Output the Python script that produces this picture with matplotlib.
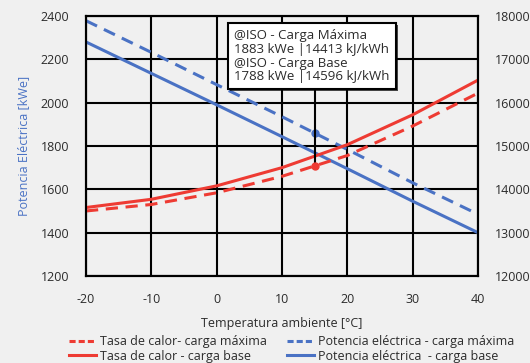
import matplotlib
matplotlib.use("Agg")
import matplotlib.pyplot as plt
import matplotlib.patheffects as pe
from matplotlib.lines import Line2D

plt.rcParams['font.family'] = ['Open Sans', 'DejaVu Sans']
plt.rcParams['axes.unicode_minus'] = False

# data
temp = [-20, -10, 0, 10, 20, 30, 40]
pot_max = [2378, 2232, 2083, 1935, 1784, 1630, 1485]      # kWe, dashed blue
pot_base = [2280, 2135, 1990, 1843, 1695, 1545, 1400]     # kWe, solid blue
hr_max = [13500, 13650, 13920, 14300, 14780, 15460, 16220]  # kJ/kWh, dashed red
hr_base = [13580, 13770, 14080, 14500, 15030, 15720, 16520] # kJ/kWh, solid red

iso_temp = 15
iso_pot = 1860
iso_hr = 14540

note = ["@ISO - Carga Máxima", "1883 kWe |14413 kJ/kWh",
        "@ISO - Carga Base", "1788 kWe |14596 kJ/kWh"]

RED = "#EE3B33"
BLUE = "#4A72C4"
BG = "#F0F0F0"
TXT = "#2b2b2b"

fig = plt.figure(figsize=(5.30, 3.63), dpi=100, facecolor=BG)
ax = fig.add_axes([0.1623, 0.2397, 0.7396, 0.7163], facecolor=BG)
ax2 = ax.twinx()

ax.set_xlim(-20, 40)
ax.set_ylim(1200, 2400)
ax2.set_ylim(12000, 18000)
ax.set_xticks(range(-20, 41, 10))
ax.set_yticks(range(1200, 2401, 200))
ax2.set_yticks(range(12000, 18001, 1000))

ax.grid(True, color="black", lw=1.5)
ax.set_axisbelow(True)
for a in (ax, ax2):
    for s in a.spines.values():
        s.set_color("black")
        s.set_linewidth(1.5)
    a.tick_params(length=0, labelsize=9, colors=TXT, pad=12)

dash = (0, (4, 2.5))
ax.plot(temp, pot_max, color=BLUE, lw=2.2, linestyle=dash)
ax.plot(temp, pot_base, color=BLUE, lw=2.2)
ax2.plot(temp, hr_max, color=RED, lw=2.2, linestyle=dash)
ax2.plot(temp, hr_base, color=RED, lw=2.2)

# ISO marker line (box bottom down to the red dot) and dots
ax2.plot([iso_temp, iso_temp], [16600, iso_hr], color="black", lw=1.5, zorder=4)
ax.plot(iso_temp, iso_pot, "o", color=BLUE, ms=5, zorder=5)
ax2.plot(iso_temp, iso_hr, "o", color=RED, ms=5, zorder=5)

t = ax2.text(2.7, 17700, "\n".join(note), fontsize=9.5, color=TXT, va="top", ha="left",
             linespacing=1.08, zorder=6,
             bbox=dict(boxstyle="square,pad=0.45", fc="white", ec="black", lw=1.5))
t.get_bbox_patch().set_path_effects([
    pe.SimplePatchShadow(offset=(1.5, -1.5), shadow_rgbFace="black", alpha=0.7),
    pe.Normal()])

ax.set_ylabel("Potencia Eléctrica [kWe]", color=BLUE, fontsize=9, labelpad=8)
ax.set_xlabel("Temperatura ambiente [°C]", color=TXT, fontsize=9, labelpad=8)

handles = [
    Line2D([], [], color=RED, lw=2.2, linestyle=(0, (2, 1))),
    Line2D([], [], color=RED, lw=2.2),
    Line2D([], [], color=BLUE, lw=2.2, linestyle=(0, (2, 1))),
    Line2D([], [], color=BLUE, lw=2.2),
]
labels = ["Tasa de calor- carga máxima", "Tasa de calor - carga base",
          "Potencia eléctrica - carga máxima", "Potencia eléctrica  - carga base"]
fig.legend(handles, labels, ncol=2, loc="lower center", bbox_to_anchor=(0.55, -0.03),
           frameon=False, fontsize=9, handlelength=2.2, labelspacing=0.1,
           columnspacing=1.6, handletextpad=0.3, labelcolor=TXT)

fig.savefig("out.png", dpi=100, facecolor=BG)
